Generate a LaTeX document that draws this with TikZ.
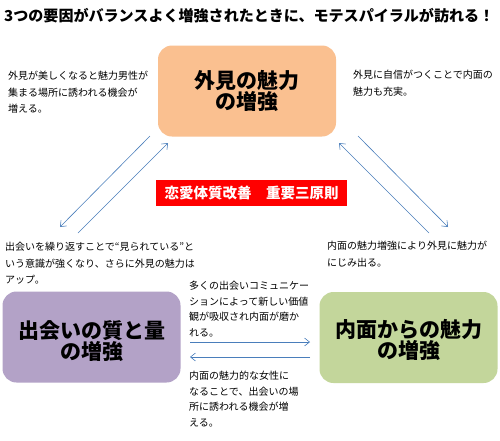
\documentclass[tikz,border=0pt]{standalone}
\usepackage{fontspec}
\setmainfont{Noto Sans CJK JP}
\usetikzlibrary{arrows.meta}
\definecolor{orangebox}{HTML}{FAC090}
\definecolor{purplebox}{HTML}{B3A2C7}
\definecolor{greenbox}{HTML}{C3D69B}
\definecolor{arrowblue}{HTML}{4A7EBB}
\definecolor{redbox}{HTML}{FF0000}
\tikzset{
  bigbox/.style={rounded corners=14pt, minimum width=178pt, minimum height=91pt, inner sep=0pt, align=center,
    font=\fontsize{21}{21}\selectfont\bfseries},
  note/.style={anchor=north west, inner sep=0pt, align=left, font=\fontsize{10}{16.5}\selectfont},
  notetight/.style={note, font=\fontsize{10}{15.5}\selectfont},
  arr/.style={draw=arrowblue, line width=0.6pt, -{Straight Barb[length=5pt,width=8pt]}}
}
\begin{document}
\begin{tikzpicture}[x=1pt,y=-1pt]
\useasboundingbox[fill=white] (0,0) rectangle (500,440);
\node[anchor=west, inner sep=0pt, font=\fontsize{15.05}{16}\selectfont\bfseries] (title) at (4,16)
  {3つの要因がバランスよく増強されたときに、モテスパイラルが訪れる！};

\node[bigbox, fill=orangebox] (top) at (247,91) {外見の魅力\\の増強};
\node[bigbox, fill=purplebox] (left) at (91.5,337) {};
\node[font=\fontsize{21}{21}\selectfont\bfseries, align=center, inner sep=0pt] (lefttext) at (91.5,341) {出会いの質と量\\の増強};
\node[bigbox, fill=greenbox] (right) at (408.5,337.5) {};
\node[font=\fontsize{21}{21}\selectfont\bfseries, align=center, inner sep=0pt] (righttext) at (408.5,339.5) {内面からの魅力\\の増強};

\node[fill=redbox, text=white, minimum width=191pt, minimum height=26pt, inner sep=0pt,
  font=\fontsize{14.5}{15}\selectfont\bfseries] (rule) at (251.5,193) {恋愛体質改善　重要三原則};

\node[note] (n1) at (8,71) {外見が美しくなると魅力男性が\\集まる場所に誘われる機会が\\増える。};
\node[note] (n2) at (353,70) {外見に自信がつくことで内面の\\魅力も充実。};
\node[note] (n3) at (5,242) {出会いを繰り返すことで“見られている”と\\いう意識が強くなり、さらに外見の魅力は\\アップ。};
\node[note] (n4) at (327,241) {内面の魅力増強により外見に魅力が\\にじみ出る。};
\node[notetight] (n5) at (189,281) {多くの出会いコミュニケー\\ションによって新しい価値\\観が吸収され内面が磨か\\れる。};
\node[notetight] (n6) at (189,371) {内面の魅力的な女性に\\なることで、出会いの場\\所に誘われる機会が増\\える。};

\coordinate (a1s) at (150,136);
\coordinate (a1e) at (60,227);
\coordinate (a2s) at (78,233);
\coordinate (a2e) at (168,143);
\coordinate (a3s) at (429,233);
\coordinate (a3e) at (339,143);
\coordinate (a4s) at (358,136);
\coordinate (a4e) at (448,227);
\coordinate (a5s) at (190,342);
\coordinate (a5e) at (310,342);
\coordinate (a6s) at (310,357);
\coordinate (a6e) at (190,357);
\draw[arr] (a1s) -- (a1e);
\draw[arr] (a2s) -- (a2e);
\draw[arr] (a3s) -- (a3e);
\draw[arr] (a4s) -- (a4e);
\draw[arr] (a5s) -- (a5e);
\draw[arr] (a6s) -- (a6e);
\end{tikzpicture}
\end{document}
